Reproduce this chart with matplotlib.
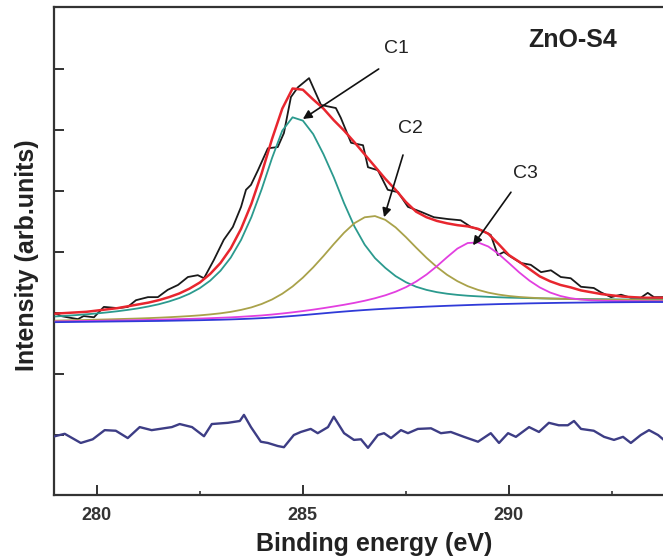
import matplotlib
matplotlib.use("Agg")
import matplotlib.pyplot as plt
import numpy as np

plt.rcParams['font.family'] = ['Liberation Sans', 'DejaVu Sans']

# ---- data (binding energy in eV, intensity in arbitrary units) ----
energy = [279.0, 279.25, 279.5, 279.75, 280.0, 280.25, 280.5, 280.75, 281.0, 281.25,
          281.5, 281.75, 282.0, 282.25, 282.5, 282.75, 283.0, 283.25, 283.5, 283.75,
          284.0, 284.25, 284.5, 284.75, 285.0, 285.25, 285.5, 285.75, 286.0, 286.25,
          286.5, 286.75, 287.0, 287.25, 287.5, 287.75, 288.0, 288.25, 288.5, 288.75,
          289.0, 289.25, 289.5, 289.75, 290.0, 290.25, 290.5, 290.75, 291.0, 291.25,
          291.5, 291.75, 292.0, 292.25, 292.5, 292.75, 293.0, 293.25, 293.5, 293.75, 294.0]

background = [1.850, 1.852, 1.854, 1.856, 1.858, 1.860, 1.862, 1.864, 1.866, 1.868,
              1.870, 1.873, 1.876, 1.879, 1.882, 1.886, 1.890, 1.895, 1.901, 1.908,
              1.916, 1.926, 1.938, 1.951, 1.965, 1.980, 1.995, 2.010, 2.024, 2.037,
              2.049, 2.060, 2.070, 2.079, 2.088, 2.096, 2.104, 2.111, 2.118, 2.124,
              2.130, 2.136, 2.141, 2.146, 2.150, 2.154, 2.158, 2.161, 2.164, 2.167,
              2.169, 2.171, 2.173, 2.175, 2.176, 2.177, 2.178, 2.179, 2.180, 2.180, 2.180]

peak_c1 = [1.944, 1.954, 1.966, 1.979, 1.993, 2.010, 2.029, 2.051, 2.076, 2.107,
           2.143, 2.189, 2.245, 2.316, 2.408, 2.530, 2.692, 2.909, 3.198, 3.571,
           4.029, 4.537, 4.989, 5.208, 5.153, 4.933, 4.603, 4.224, 3.800, 3.420,
           3.120, 2.900, 2.740, 2.605, 2.505, 2.430, 2.379, 2.342, 2.316, 2.297,
           2.283, 2.273, 2.265, 2.258, 2.252, 2.248, 2.244, 2.240, 2.237, 2.235,
           2.232, 2.230, 2.228, 2.227, 2.224, 2.222, 2.221, 2.219, 2.218, 2.216, 2.214]

peak_c2 = [1.875, 1.879, 1.882, 1.886, 1.891, 1.895, 1.900, 1.905, 1.910, 1.916,
           1.923, 1.931, 1.940, 1.950, 1.962, 1.977, 1.995, 2.019, 2.051, 2.092,
           2.148, 2.221, 2.316, 2.435, 2.580, 2.748, 2.934, 3.130, 3.316, 3.472,
           3.569, 3.589, 3.527, 3.404, 3.244, 3.071, 2.905, 2.755, 2.626, 2.522,
           2.440, 2.379, 2.334, 2.302, 2.279, 2.263, 2.252, 2.243, 2.237, 2.232,
           2.228, 2.225, 2.222, 2.220, 2.218, 2.215, 2.214, 2.212, 2.211, 2.209, 2.207]

peak_c3 = [1.862, 1.864, 1.867, 1.870, 1.872, 1.875, 1.878, 1.881, 1.884, 1.887,
           1.891, 1.895, 1.900, 1.904, 1.909, 1.915, 1.922, 1.929, 1.938, 1.949,
           1.960, 1.975, 1.992, 2.011, 2.032, 2.055, 2.080, 2.107, 2.135, 2.166,
           2.201, 2.242, 2.290, 2.349, 2.423, 2.516, 2.630, 2.766, 2.915, 3.056,
           3.147, 3.157, 3.090, 2.968, 2.819, 2.666, 2.530, 2.419, 2.336, 2.279,
           2.242, 2.220, 2.208, 2.202, 2.197, 2.195, 2.194, 2.193, 2.192, 2.191, 2.190]

fit_envelope = [1.99, 2.00, 2.01, 2.02, 2.04, 2.06, 2.08, 2.11, 2.14, 2.17,
                2.21, 2.26, 2.32, 2.40, 2.50, 2.64, 2.82, 3.06, 3.38, 3.79,
                4.29, 4.85, 5.35, 5.68, 5.66, 5.50, 5.35, 5.16, 4.99, 4.80,
                4.60, 4.40, 4.20, 4.02, 3.82, 3.66, 3.57, 3.51, 3.47, 3.44,
                3.42, 3.38, 3.30, 3.13, 2.95, 2.84, 2.72, 2.60, 2.52, 2.46,
                2.42, 2.37, 2.34, 2.31, 2.29, 2.27, 2.26, 2.25, 2.25, 2.25, 2.25]

raw_energy = [278.98, 279.13, 279.37, 279.54, 279.68, 279.93, 280.17, 280.51, 280.75, 280.95,
              281.24, 281.48, 281.72, 281.97, 282.21, 282.45, 282.60, 282.84, 283.08, 283.30,
              283.50, 283.62, 283.74, 283.91, 284.15, 284.39, 284.54, 284.71, 284.88, 285.15,
              285.44, 285.80, 285.92, 286.17, 286.46, 286.58, 286.82, 287.06, 287.31, 287.55,
              287.86, 288.18, 288.52, 288.83, 289.08, 289.32, 289.56, 289.73, 289.88, 290.05,
              290.29, 290.53, 290.78, 291.02, 291.26, 291.50, 291.75, 292.06, 292.23, 292.48,
              292.72, 292.96, 293.20, 293.37, 293.52, 293.76]
raw_counts = [2.00, 1.95, 1.92, 1.90, 1.95, 1.93, 2.10, 2.08, 2.10, 2.21,
              2.26, 2.26, 2.38, 2.46, 2.59, 2.62, 2.57, 2.87, 3.20, 3.41,
              3.74, 4.02, 4.10, 4.34, 4.70, 4.72, 4.95, 5.54, 5.70, 5.85,
              5.41, 5.36, 5.20, 4.79, 4.75, 4.39, 4.34, 4.02, 3.98, 3.74,
              3.66, 3.57, 3.54, 3.52, 3.41, 3.36, 3.28, 2.95, 3.00, 2.92,
              2.82, 2.79, 2.67, 2.70, 2.59, 2.57, 2.43, 2.41, 2.34, 2.26,
              2.30, 2.25, 2.25, 2.33, 2.26, 2.26]

res_energy = [278.98, 279.22, 279.61, 279.90, 280.19, 280.46, 280.75, 281.04, 281.33, 281.82,
              282.01, 282.31, 282.60, 282.79, 283.18, 283.47, 283.57, 283.74, 283.98, 284.15,
              284.39, 284.54, 284.78, 284.95, 285.19, 285.36, 285.61, 285.75, 286.00, 286.24,
              286.41, 286.58, 286.82, 286.97, 287.14, 287.38, 287.55, 287.79, 288.11, 288.35,
              288.59, 288.91, 289.25, 289.56, 289.76, 289.98, 290.17, 290.49, 290.73, 290.97,
              291.21, 291.43, 291.58, 291.75, 292.06, 292.31, 292.55, 292.77, 292.96, 293.20,
              293.40, 293.62, 293.76]
residual = [-0.02, 0.02, -0.13, -0.07, 0.08, 0.07, -0.05, 0.13, 0.08, 0.13,
            0.18, 0.13, -0.02, 0.18, 0.20, 0.23, 0.33, 0.13, -0.11, -0.13,
            -0.18, -0.20, 0.00, 0.05, 0.10, 0.03, 0.13, 0.30, 0.03, -0.08,
            -0.07, -0.21, 0.00, 0.03, -0.05, 0.08, 0.03, 0.10, 0.11, 0.03,
            0.05, -0.03, -0.11, 0.03, -0.13, 0.03, -0.03, 0.13, 0.05, 0.20,
            0.16, 0.16, 0.23, 0.10, 0.07, -0.03, -0.08, -0.03, -0.13, 0.00,
            0.08, 0.00, -0.08]

x_major = [280, 285, 290]
x_minor = [282.5, 287.5, 292.5]
y_ticks = [0, 1, 2, 3, 4, 5, 6]

# ---- figure ----
fig = plt.figure(figsize=(6.63, 5.58), dpi=100)
ax = fig.add_axes([54/663, 1 - 494.5/558, 1 - 54/663, 487.5/558])

ax.plot(raw_energy, raw_counts, color='#1a1a1a', lw=1.3, zorder=3)
ax.plot(energy, fit_envelope, color='#e8262e', lw=1.8, zorder=4)
ax.plot(energy, peak_c1, color='#2b9a8e', lw=1.3, zorder=5)
ax.plot(energy, peak_c2, color='#a9a24a', lw=1.3, zorder=5)
ax.plot(energy, peak_c3, color='#e23fe0', lw=1.3, zorder=5)
ax.plot(energy, background, color='#2f3ad8', lw=1.3, zorder=6)
ax.plot(res_energy, residual, color='#3d3d85', lw=1.7, zorder=3)

ax.set_xlim(278.96, 293.74)
ax.set_ylim(-0.975, 7.016)

ax.set_xticks(x_major)
ax.set_xticks(x_minor, minor=True)
ax.set_xticklabels([str(v) for v in x_major])
ax.set_yticks(y_ticks)
ax.set_yticklabels([])

ax.tick_params(axis='both', which='major', direction='in', length=7, width=1.3,
               color='#222222')
ax.tick_params(axis='x', which='major', labelsize=13, pad=9, labelcolor='#333333')
ax.tick_params(axis='x', which='minor', direction='in', length=3, width=1.1,
               color='#222222')
for lbl in ax.get_xticklabels():
    lbl.set_fontweight('bold')

for side in ['left', 'bottom', 'top']:
    ax.spines[side].set_linewidth(1.6)
    ax.spines[side].set_color('#333333')
ax.spines['right'].set_visible(False)

ax.set_xlabel('Binding energy (eV)', fontsize=18, fontweight='bold', color='#222222')
ax.xaxis.set_label_coords((374 - 54) / 609, -(544 - 494.5) / 487.5)
ax.xaxis.label.set_va('center')
ax.set_ylabel('Intensity (arb.units)', fontsize=18, fontweight='bold', color='#222222')
ax.yaxis.set_label_coords(-(54 - 27) / 609, (494.5 - 255) / 487.5)
ax.yaxis.label.set_va('center')

arrow_kw = dict(arrowstyle='-|>', color='#111111', lw=1.2, mutation_scale=13,
                shrinkA=0, shrinkB=0)
ax.annotate('', xy=(285.00, 5.18), xytext=(286.84, 6.00), arrowprops=arrow_kw, zorder=7)
ax.annotate('', xy=(286.97, 3.57), xytext=(287.43, 4.59), arrowprops=arrow_kw, zorder=7)
ax.annotate('', xy=(289.13, 3.11), xytext=(290.05, 3.98), arrowprops=arrow_kw, zorder=7)

ax.text(287.26, 6.34, 'C1', fontsize=14, ha='center', va='center', color='#222222')
ax.text(287.62, 5.03, 'C2', fontsize=14, ha='center', va='center', color='#222222')
ax.text(290.39, 4.28, 'C3', fontsize=14, ha='center', va='center', color='#222222')
ax.text(291.55, 6.47, 'ZnO-S4', fontsize=18, fontweight='bold', ha='center',
        va='center', color='#222222')

fig.savefig('out.png', dpi=100)
